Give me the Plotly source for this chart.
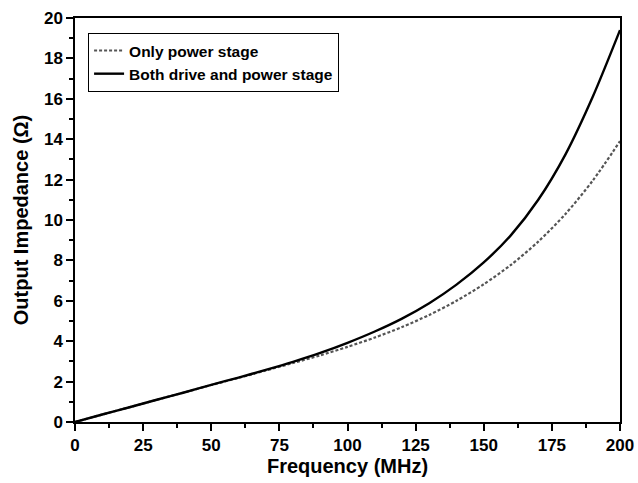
import plotly.graph_objects as go

freq = [0, 10, 20, 30, 40, 50, 60, 70, 80, 90, 100, 110, 120, 130, 140, 150, 160, 170, 180, 190, 200]
only_power = [0, 0.37, 0.73, 1.1, 1.46, 1.83, 2.18, 2.55, 2.92, 3.3, 3.72, 4.18, 4.7, 5.3, 6.0, 6.82, 7.78, 8.93, 10.3, 11.95, 13.9]
both_stage = [0, 0.37, 0.73, 1.1, 1.46, 1.84, 2.2, 2.58, 2.98, 3.42, 3.92, 4.48, 5.12, 5.88, 6.8, 7.9, 9.25, 11.0, 13.25, 16.1, 19.4]

x_ticks = [0, 25, 50, 75, 100, 125, 150, 175, 200]
y_ticks = [0, 2, 4, 6, 8, 10, 12, 14, 16, 18, 20]

font_family = "Liberation Sans, Arial, sans-serif"

fig = go.Figure()
fig.add_trace(go.Scatter(
    x=freq, y=only_power, mode="lines", name="Only power stage",
    line=dict(color="#555555", width=2.2, dash="3px,2px", shape="spline", smoothing=0.8),
))
fig.add_trace(go.Scatter(
    x=freq, y=both_stage, mode="lines", name="Both drive and power stage",
    line=dict(color="#000000", width=2.4, shape="spline", smoothing=0.8),
))

axis_common = dict(
    showline=True, linecolor="black", linewidth=1.5, mirror=True,
    ticks="outside", ticklen=7, tickwidth=1.5, tickcolor="black",
    showgrid=False, zeroline=False, automargin=False,
    tickfont=dict(family=font_family, size=17, color="black", weight="bold"),
    minor=dict(ticks="outside", ticklen=4, tickwidth=1.5, tickcolor="black"),
)

fig.update_xaxes(
    range=[0, 200], tickvals=x_ticks, ticktext=[str(v) for v in x_ticks],
    title=dict(text="Frequency (MHz)", font=dict(family=font_family, size=20, color="black", weight="bold"), standoff=4),
    **axis_common,
)
fig.update_layout(xaxis_minor=dict(tickvals=[12.5 + 25 * i for i in range(8)]))
fig.update_yaxes(
    range=[0, 20], tickvals=y_ticks, ticktext=[str(v) for v in y_ticks],
    title=dict(text="Output Impedance (Ω)", font=dict(family=font_family, size=20, color="black", weight="bold"), standoff=10),
    **axis_common,
)
fig.update_layout(yaxis_minor=dict(tickvals=[1 + 2 * i for i in range(10)]))

fig.update_layout(
    width=638, height=483,
    margin=dict(l=75, r=18, t=18, b=61, autoexpand=False),
    paper_bgcolor="white", plot_bgcolor="white",
    showlegend=True,
    legend=dict(
        x=0.024, y=0.963, xanchor="left", yanchor="top",
        bordercolor="black", borderwidth=1, bgcolor="white",
        font=dict(family=font_family, size=15.5, color="black", weight="bold"),
        tracegroupgap=0, itemwidth=30,
    ),
)

fig.write_html("out.html")
